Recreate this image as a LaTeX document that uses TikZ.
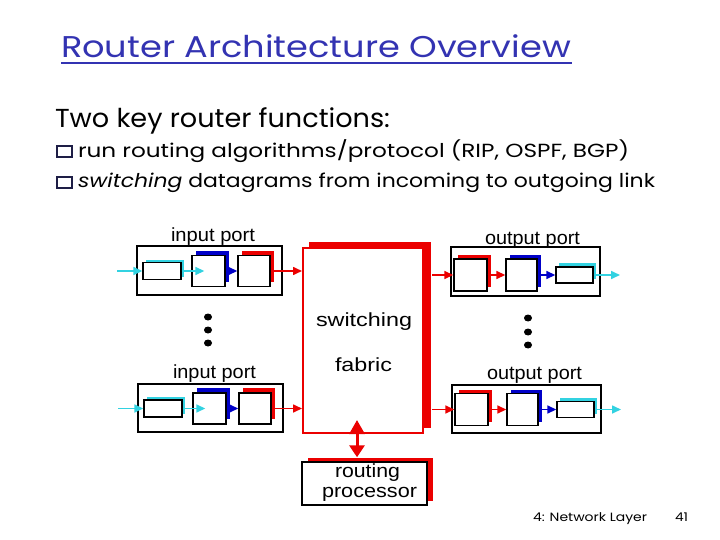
\documentclass[tikz,border=0pt]{standalone}
\usepackage{fontspec}
\setmainfont{Poppins}
\newfontfamily\diag{Liberation Sans}
\usetikzlibrary{arrows.meta,calc}
\definecolor{ttl}{RGB}{51,51,178}
\definecolor{rr}{RGB}{235,0,0}
\definecolor{bb}{RGB}{0,0,200}
\definecolor{cc}{RGB}{50,210,225}
\definecolor{sq}{RGB}{30,30,70}
\newcommand{\fitw}[2]{\resizebox{#1pt}{\height}{#2}}
\tikzset{
  txt/.style={anchor=base west, inner sep=0pt, outer sep=0pt},
  dlab/.style={anchor=base west, inner sep=0pt, outer sep=0pt, font=\diag\fontsize{19}{22}\selectfont},
  portbox/.style={draw=black, line width=1.5pt, fill=white, inner sep=0pt},
  inbox/.style={draw=black, line width=1.4pt, fill=white, inner sep=0pt},
  shad/.style={inner sep=0pt, outer sep=0pt, draw=none},
  arr/.style={line width=1.6pt, -{Triangle[length=9pt,width=8pt]}},
  dbl/.style={rr, line width=3pt, {Triangle[length=14pt,width=15pt]}-{Triangle[length=12pt,width=15pt]}},
}
% shadowed box: name, center, w, h, colour, shadow shift
\newcommand{\shbox}[6]{%
  \node[shad, fill=#5, minimum width=#3pt, minimum height=#4pt] (#1s) at ([shift={(#6)}]#2) {};
  \node[inbox, minimum width=#3pt, minimum height=#4pt] (#1) at (#2) {};
}
% input port: prefix, dx, box cy, inner cy, box height
\newcommand{\inport}[5]{%
\begin{scope}[shift={(#2,0)}]
  \node[portbox, minimum width=145pt, minimum height=#5pt] (#1box) at (209.5,#3) {};
  \shbox{#1r}{162,#4}{38}{17}{cc}{3,-3}
  \shbox{#1b}{208.5,#4}{33}{31}{bb}{4,-5}
  \shbox{#1c}{254,#4}{32}{31}{rr}{4,-5}
  \coordinate (#1in) at (117,#4);
  \draw[arr,cc] (#1in) -- (#1r.west);
  \draw[arr,cc] (#1r.east) -- ([xshift=13pt]#1b.west);
  \draw[arr,bb] (#1b.east) -- (#1c.west);
\end{scope}
  \draw[arr,rr] (#1c.east) -- (#1c.east -| fab.west);
}
% output port: prefix, dx, box cy, inner cy, box height
\newcommand{\outport}[5]{%
\begin{scope}[shift={(#2,0)}]
  \node[portbox, minimum width=149pt, minimum height=#5pt] (#1box) at (525.5,#3) {};
  \shbox{#1a}{470.5,#4}{33}{32}{rr}{4,-4}
  \shbox{#1b}{521.5,#4}{31}{32}{bb}{4,-4}
  \shbox{#1c}{574.5,#4}{37}{16}{cc}{3,-4}
  \coordinate (#1out) at (620,#4);
  \draw[arr,rr] (#1a.east) -- (#1b.west);
  \draw[arr,bb] (#1b.east) -- (#1c.west);
  \draw[arr,cc] (#1c.east) -- (#1out);
\end{scope}
  \draw[arr,rr] (fabR |- #1a.west) -- (#1a.west);
}
\begin{document}
\begin{tikzpicture}[x=1pt,y=-1pt]
\useasboundingbox[fill=white] (0,0) rectangle (720,540);

% title and text
\node[txt, text=ttl] (title) at (61,58) {\fitw{510}{\fontsize{30}{36}\selectfont Router Architecture Overview}};
\draw[ttl, line width=1.8pt] (61,63) -- (572,63);
\node[txt] (two) at (55,128) {\fitw{335}{\fontsize{26}{30}\selectfont Two key router functions:}};
\draw[sq, line width=1.2pt, fill=white] (57,146) rectangle (72,157);
\draw[sq, line width=1.2pt, fill=white] (57,177) rectangle (72,188);
\node[txt] (bl1) at (78,158) {\fitw{551}{\fontsize{19}{23}\selectfont run routing algorithms/protocol (RIP, OSPF, BGP)}};
\node[txt] (bl2) at (78,188) {\fitw{577}{\fontsize{19}{23}\selectfont \textit{switching} datagrams from incoming to outgoing link}};

% switching fabric
\node[shad, fill=rr, minimum width=122pt, minimum height=186pt] (fabs) at (370,334.5) {};
\node[draw=rr, line width=2pt, fill=white, inner sep=0pt, minimum width=120pt, minimum height=185pt] (fab) at (363,340.5) {};
\coordinate (fabR) at ([xshift=8pt]fab.east);
\node[dlab] (sw) at (316,326) {\fitw{96}{switching}};
\node[dlab] (fb) at (335,371) {\fitw{57}{fabric}};

% ports
\inport{it}{0}{270.5}{271}{49}
\inport{ib}{1}{408}{408.5}{48}
\outport{ot}{0}{271.5}{275}{49}
\outport{ob}{1}{409}{409.5}{48}

\node[dlab] (l1) at (171,241) {\fitw{84}{input port}};
\node[dlab] (l2) at (173,378) {\fitw{83}{input port}};
\node[dlab] (l3) at (485,244) {\fitw{95}{output port}};
\node[dlab] (l4) at (487,379) {\fitw{95}{output port}};

% dots
\foreach \yy in {317,330,343} \fill (208,\yy) ellipse [x radius=4pt, y radius=3.5pt];
\foreach \yy in {318,332,345} \fill (528,\yy) ellipse [x radius=4pt, y radius=3.5pt];

% routing processor
\node[shad, fill=rr, minimum width=125pt, minimum height=43pt] (rps) at (370,479) {};
\node[draw=black, line width=1.5pt, fill=white, inner sep=0pt, minimum width=125pt, minimum height=43pt] (rp) at (364.5,483.5) {};
\node[dlab] (rt) at (335,477) {\fitw{65}{routing}};
\node[dlab] (pr) at (322,497) {\fitw{95}{processor}};
\draw[dbl] ([xshift=-6pt,yshift=14pt]fab.south) -- ([xshift=-7.5pt,yshift=4pt]rp.north);

% footer
\node[txt] (ft) at (533,521) {\fitw{114}{\fontsize{12}{14}\selectfont 4: Network Layer}};
\node[txt] (pg) at (675,521) {\fitw{13}{\fontsize{12}{14}\selectfont 41}};
\end{tikzpicture}
\end{document}
